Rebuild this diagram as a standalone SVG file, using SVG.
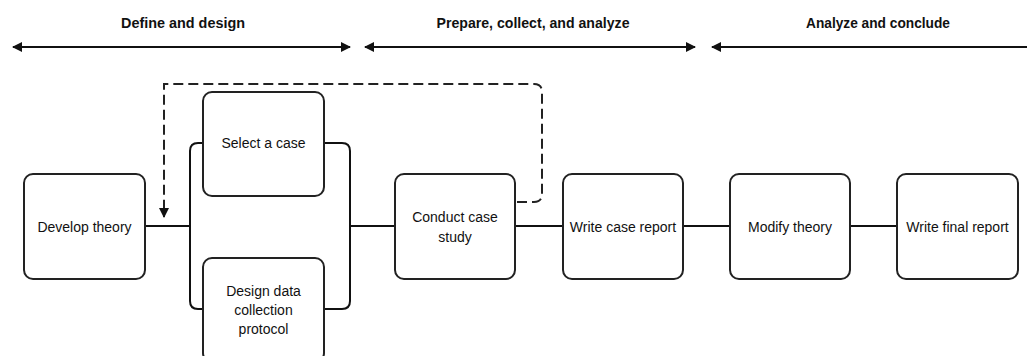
<svg xmlns="http://www.w3.org/2000/svg" width="1027" height="356" viewBox="0 0 1027 356">
<defs>
<style>
.box{fill:#fff;stroke:#222;stroke-width:2}
.lbl{font-family:"Liberation Sans",Arial,sans-serif;font-size:14px;fill:#111;text-anchor:middle}
.hdr{font-family:"Liberation Sans",Arial,sans-serif;font-size:14px;font-weight:bold;fill:#111;text-anchor:middle}
.ln{fill:none;stroke:#111;stroke-width:2}
.dash{fill:none;stroke:#222;stroke-width:2;stroke-dasharray:10 5}
</style>
<marker id="ah" viewBox="0 0 10 10" refX="9" refY="5" markerWidth="5" markerHeight="5" orient="auto-start-reverse" markerUnits="strokeWidth">
<path d="M0,0 L10,5 L0,10 z" fill="#111"/>
</marker>
<marker id="ad" viewBox="0 0 10 10" refX="9" refY="5" markerWidth="5" markerHeight="5" orient="auto" markerUnits="strokeWidth">
<path d="M0,0 L10,5 L0,10 z" fill="#111"/>
</marker>
</defs>
<rect width="1027" height="356" fill="#fff"/>
<g id="phases">
<text class="hdr" x="183" y="28" textLength="124" lengthAdjust="spacingAndGlyphs">Define and design</text>
<text class="hdr" x="533" y="28" textLength="193" lengthAdjust="spacingAndGlyphs">Prepare, collect, and analyze</text>
<text class="hdr" x="878" y="28" textLength="144" lengthAdjust="spacingAndGlyphs">Analyze and conclude</text>
<line class="ln" x1="13" y1="47" x2="350" y2="47" marker-start="url(#ah)" marker-end="url(#ah)"/>
<line class="ln" x1="365" y1="47" x2="695" y2="47" marker-start="url(#ah)" marker-end="url(#ah)"/>
<line class="ln" x1="712" y1="47" x2="1040" y2="47" marker-start="url(#ah)"/>
</g>
<g id="connectors">
<line class="ln" x1="145" y1="226" x2="190" y2="226"/>
<path class="ln" d="M203,143 H198 Q190,143 190,151 V301 Q190,309 198,309 H203"/>
<path class="ln" d="M324,143 H342 Q350,143 350,151 V301 Q350,309 342,309 H324"/>
<line class="ln" x1="350" y1="226" x2="395" y2="226"/>
<line class="ln" x1="515" y1="226" x2="563" y2="226"/>
<line class="ln" x1="683" y1="226" x2="730" y2="226"/>
<line class="ln" x1="850" y1="226" x2="897" y2="226"/>
<path class="dash" d="M517,202 H534 Q542,202 542,194 V92 Q542,84 534,84 H164 V217" marker-end="url(#ad)"/>
</g>
<g id="develop-theory">
<rect class="box" x="24" y="174" width="121" height="105" rx="9"/>
<text class="lbl" x="84.5" y="232">Develop theory</text>
</g>
<g id="select-case">
<rect class="box" x="203" y="92" width="121" height="104" rx="9"/>
<text class="lbl" x="263.5" y="148">Select a case</text>
</g>
<g id="design-protocol">
<rect class="box" x="203" y="258" width="121" height="104" rx="9"/>
<text class="lbl" x="263.5" y="296">Design data</text>
<text class="lbl" x="263.5" y="315">collection</text>
<text class="lbl" x="263.5" y="334">protocol</text>
</g>
<g id="conduct-study">
<rect class="box" x="395" y="174" width="120" height="105" rx="9"/>
<text class="lbl" x="455" y="222">Conduct case</text>
<text class="lbl" x="455" y="242">study</text>
</g>
<g id="write-case-report">
<rect class="box" x="563" y="174" width="120" height="105" rx="9"/>
<text class="lbl" x="623" y="232">Write case report</text>
</g>
<g id="modify-theory">
<rect class="box" x="730" y="174" width="120" height="105" rx="9"/>
<text class="lbl" x="790" y="232">Modify theory</text>
</g>
<g id="write-final-report">
<rect class="box" x="897" y="174" width="121" height="105" rx="9"/>
<text class="lbl" x="957.5" y="232">Write final report</text>
</g>
</svg>
